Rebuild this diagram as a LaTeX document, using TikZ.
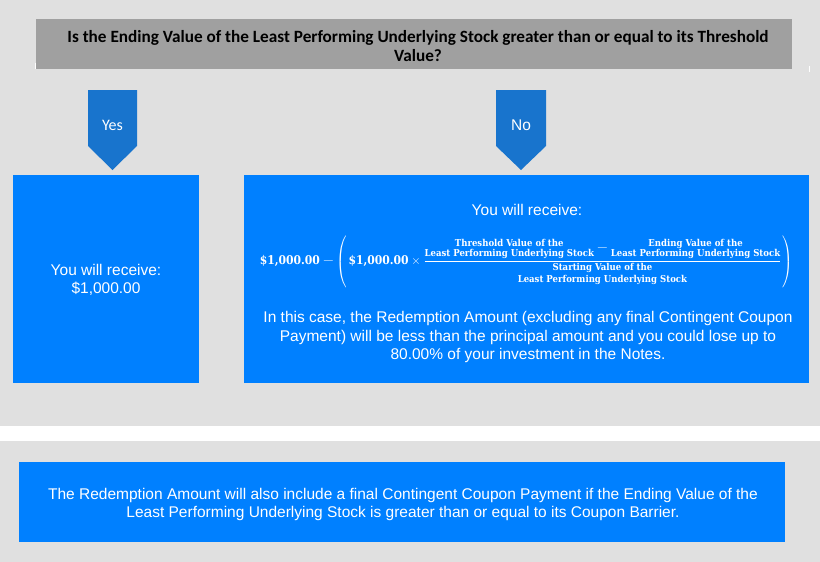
\documentclass[tikz,border=0pt]{standalone}
\usepackage{fontspec}
\usepackage{amsmath}
\setmainfont{Liberation Sans}
\newfontfamily\calibri{Carlito}
\newfontfamily\fml{DejaVu Serif Condensed}
\definecolor{bgc}{HTML}{E0E0E0}
\definecolor{bannergray}{HTML}{A0A0A0}
\definecolor{boxblue}{HTML}{0080FF}
\definecolor{arrowblue}{HTML}{1874CD}
\newcommand{\stk}[3][-1.5pt]{\begin{tabular}{@{}c@{}}#2\\[#1]#3\end{tabular}}
\newcommand{\smalltext}[1]{\text{\fml\bfseries\fontsize{9.5}{11.1}\selectfont #1}}
\newcommand{\bigminus}{\mathbin{\scalebox{1.25}[1.1]{$-$}}}
\newcommand{\myLpar}{\mathopen{\vcenter{\hbox{\scalebox{1}[1.2]{$\left(\rule[-17pt]{0pt}{40pt}\right.$}}}}}
\newcommand{\myRpar}{\mathclose{\vcenter{\hbox{\scalebox{1}[1.2]{$\left.\rule[-17pt]{0pt}{40pt}\right)$}}}}}
\begin{document}
\begin{tikzpicture}[x=1pt,y=-1pt,
  bluebox/.style={fill=boxblue, draw=none, inner sep=0pt},
  bodytext/.style={text=white, align=center, inner sep=0pt, font=\fontsize{15.5}{18.5}\selectfont},
  arrowlabel/.style={text=white, inner sep=0pt}]
\useasboundingbox (0,0) rectangle (820,562);
\fill[bgc] (0,0) rectangle (820,562);
\fill[white] (0,426) rectangle (820,441);
% banner
\node[fill=bannergray, minimum width=756pt, minimum height=50pt, inner sep=0pt] (banner) at (413.8,44) {};
\draw[white, line width=1pt] (35.5,63) -- (35.5,69);
\draw[white, line width=1pt] (809,66) -- (809,72);
\node[align=center, inner sep=0pt, font=\calibri\bfseries\fontsize{17.2}{19}\selectfont] (question) at (418,46) {Is the Ending Value of the Least Performing Underlying Stock greater than or equal to its Threshold\\Value?};
% arrows
\fill[arrowblue] (88,90) -- (137,90) -- (137,146) -- (112.5,170) -- (88,146) -- cycle;
\node[arrowlabel, font=\calibri\fontsize{16}{19}\selectfont] (yes) at (112.5,125) {Yes};
\fill[arrowblue] (496,90) -- (546,90) -- (546,146) -- (521,170) -- (496,146) -- cycle;
\node[arrowlabel, font=\fontsize{15.5}{19}\selectfont] (no) at (521,125) {No};
% boxes
\node[bluebox, minimum width=186pt, minimum height=208pt] (yesbox) at (106,279) {};
\node[bodytext, font=\fontsize{15.5}{18}\selectfont] (yestext) at (106,280) {You will receive:\\\$1,000.00};
\node[bluebox, minimum width=565pt, minimum height=208pt] (nobox) at (526.5,279) {};
\node[bodytext] (notitle) at (527,210) {You will receive:};
\node[text=white, inner sep=0pt] (formula) at (526.5,261.5) {%
  \fml\bfseries\fontsize{12}{14}\selectfont
  \delimiterfactor=1000 \delimitershortfall=0pt
  $\text{\fml\bfseries\$1,000.00} \bigminus \myLpar\text{\fml\bfseries\$1,000.00} \times \dfrac{%
    \smalltext{\stk{Threshold Value of the}{Least Performing Underlying Stock}}
    \bigminus \smalltext{\stk{Ending Value of the}{Least Performing Underlying Stock}}}{%
    \smalltext{\stk[0.5pt]{Starting Value of the}{Least Performing Underlying Stock}}}\myRpar$};
\node[bodytext] (nopara) at (528,337) {In this case, the Redemption Amount (excluding any final Contingent Coupon\\Payment) will be less than the principal amount and you could lose up to\\80.00\% of your investment in the Notes.};
% bottom
\node[bluebox, minimum width=766pt, minimum height=80pt] (note) at (402,502) {};
\node[bodytext] (notetext) at (403,504.5) {The Redemption Amount will also include a final Contingent Coupon Payment if the Ending Value of the\\Least Performing Underlying Stock is greater than or equal to its Coupon Barrier.};
\end{tikzpicture}
\end{document}
